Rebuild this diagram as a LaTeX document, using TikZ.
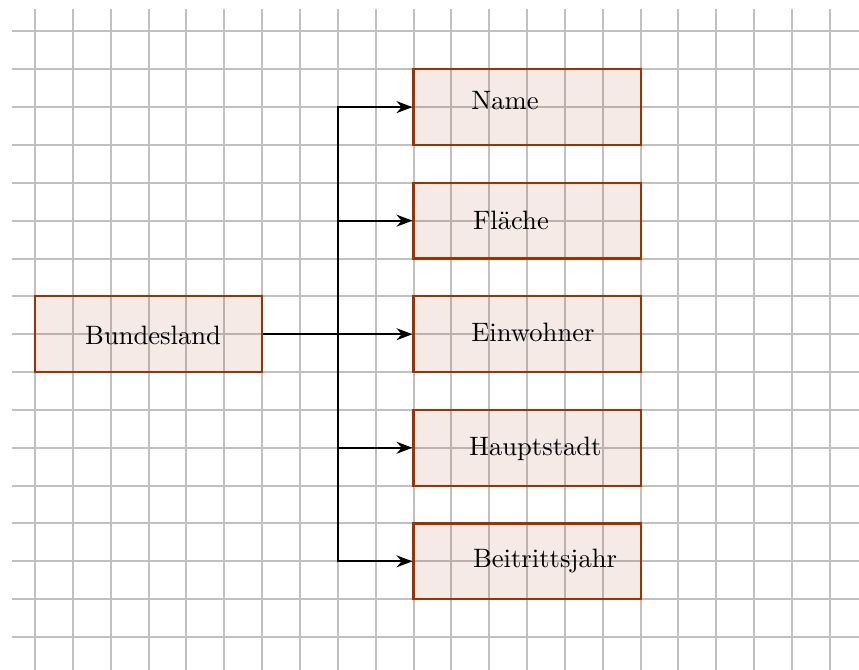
\documentclass[tikz,border=0pt]{standalone}
\usetikzlibrary{arrows.meta}
\definecolor{boxline}{RGB}{160,50,0}
\definecolor{gridgray}{RGB}{192,192,192}
\begin{document}
\begin{tikzpicture}[x=0.5cm,y=0.5cm,
  gridline/.style={draw=gridgray, line width=0.75pt},
  box/.style={draw=boxline, fill=boxline, fill opacity=0.1, draw opacity=1, text opacity=1, line width=0.8pt, minimum width=3cm, minimum height=1cm, inner sep=0pt},
  lbl/.style={anchor=base west, inner sep=0pt},
  conn/.style={line width=0.75pt, -{Stealth[length=6pt,width=4.5pt]}},
  link/.style={line width=0.75pt}
]
\useasboundingbox (-0.925,-0.87) rectangle (21.77,16.83);
\foreach \i in {0,...,22} \draw[gridline] (\i,-1) -- (\i,16.6);
\foreach \j in {0,...,16} \draw[gridline] (-0.6,\j) -- (22.5,\j);

\node[box] (bl) at (3,8) {};
\node[box] (n1) at (13,14) {};
\node[box] (n2) at (13,11) {};
\node[box] (n3) at (13,8) {};
\node[box] (n4) at (13,5) {};
\node[box] (n5) at (13,2) {};

\node[anchor=base, inner sep=0pt] (tbl) at ([xshift=0.06cm,yshift=-4.0pt]bl.center) {Bundesland};
\node[lbl] (t1) at ([xshift=0.75cm+0.6pt,yshift=-0.9pt]n1.west) {Name};
\node[lbl] (t2) at ([xshift=0.75cm+1.25pt,yshift=-3.4pt]n2.west) {Fläche};
\node[lbl] (t3) at ([xshift=0.75cm+0.6pt,yshift=-2.7pt]n3.west) {Einwohner};
\node[lbl] (t4) at ([xshift=0.75cm-0.25pt,yshift=-2.8pt]n4.west) {Hauptstadt};
\node[lbl] (t5) at ([xshift=0.75cm+1.25pt,yshift=-2.5pt]n5.west) {Beitrittsjahr};

\coordinate (j) at (8,8);
\draw[link] (bl.east) -- (j);
\draw[conn] (j) |- (n1.west);
\draw[conn] (j) |- (n2.west);
\draw[conn] (j) -- (n3.west);
\draw[conn] (j) |- (n4.west);
\draw[conn] (j) |- (n5.west);
\end{tikzpicture}
\end{document}
